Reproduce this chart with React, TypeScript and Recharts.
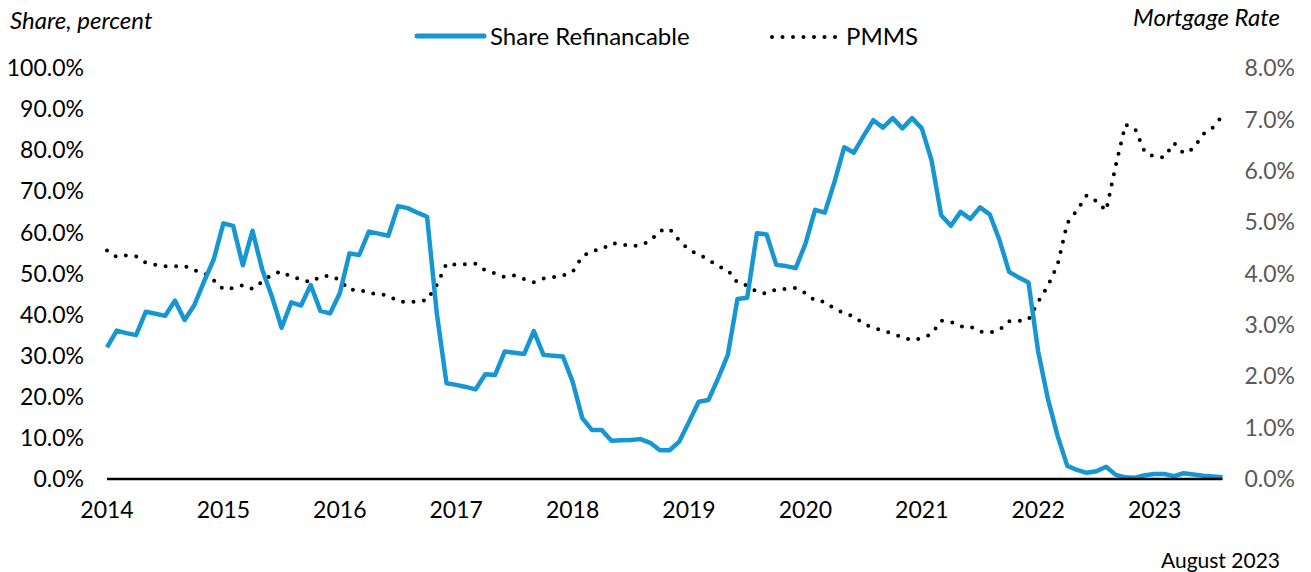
import React from "react";
import { LineChart, Line, XAxis, YAxis } from "recharts";

const years = [2014, 2015, 2016, 2017, 2018, 2019, 2020, 2021, 2022, 2023];

const refi2014 = [32.0, 36.1, 35.5, 35.0, 40.7, 40.2, 39.7, 43.4, 38.7, 42.3, 48.0, 53.4];
const refi2015 = [62.2, 61.6, 52.0, 60.4, 51.0, 44.4, 36.8, 43.0, 42.2, 47.2, 40.9, 40.3];
const refi2016 = [45.2, 54.9, 54.5, 60.2, 59.7, 59.2, 66.4, 65.9, 64.8, 63.8, 40.3, 23.3];
const refi2017 = [22.9, 22.4, 21.8, 25.5, 25.3, 31.0, 30.7, 30.4, 36.0, 30.2, 30.0, 29.8];
const refi2018 = [23.7, 14.8, 11.9, 11.9, 9.3, 9.4, 9.5, 9.7, 8.8, 7.0, 7.0, 9.1];
const refi2019 = [13.9, 18.8, 19.2, 24.5, 30.2, 43.8, 44.1, 59.8, 59.5, 52.1, 51.8, 51.3];
const refi2020 = [57.2, 65.5, 64.8, 72.3, 80.7, 79.4, 83.5, 87.3, 85.5, 87.8, 85.3, 87.8];
const refi2021 = [85.3, 77.6, 64.2, 61.6, 65.0, 63.3, 66.1, 64.4, 58.2, 50.4, 49.0, 47.8];
const refi2022 = [31.0, 19.5, 10.5, 3.2, 2.2, 1.5, 1.9, 3.0, 1.0, 0.4, 0.3, 0.9];
const refi2023 = [1.2, 1.2, 0.7, 1.4, 1.1, 0.8, 0.6, 0.4];

const pmms2014 = [4.45, 4.32, 4.35, 4.33, 4.21, 4.17, 4.14, 4.14, 4.15, 4.06, 4.01, 3.87];
const pmms2015 = [3.69, 3.72, 3.77, 3.70, 3.84, 3.98, 4.04, 3.93, 3.89, 3.83, 3.94, 3.96];
const pmms2016 = [3.87, 3.68, 3.69, 3.62, 3.60, 3.57, 3.46, 3.44, 3.46, 3.48, 3.78, 4.19];
const pmms2017 = [4.17, 4.18, 4.19, 4.06, 4.00, 3.93, 3.96, 3.89, 3.83, 3.90, 3.93, 3.96];
const pmms2018 = [4.03, 4.33, 4.44, 4.47, 4.59, 4.57, 4.53, 4.55, 4.63, 4.83, 4.87, 4.64];
const pmms2019 = [4.46, 4.37, 4.27, 4.14, 4.07, 3.82, 3.77, 3.64, 3.61, 3.69, 3.70, 3.72];
const pmms2020 = [3.62, 3.47, 3.45, 3.31, 3.23, 3.16, 3.02, 2.94, 2.89, 2.83, 2.76, 2.70];
const pmms2021 = [2.74, 2.82, 3.08, 3.06, 2.97, 2.97, 2.87, 2.85, 2.90, 3.07, 3.08, 3.10];
const pmms2022 = [3.45, 3.76, 4.17, 4.98, 5.23, 5.52, 5.41, 5.22, 6.11, 6.90, 6.81, 6.36];
const pmms2023 = [6.27, 6.26, 6.54, 6.34, 6.43, 6.71, 6.84, 7.07];

const refiByYear = [refi2014, refi2015, refi2016, refi2017, refi2018, refi2019, refi2020, refi2021, refi2022, refi2023];
const pmmsByYear = [pmms2014, pmms2015, pmms2016, pmms2017, pmms2018, pmms2019, pmms2020, pmms2021, pmms2022, pmms2023];

const leftTicks = [0, 10, 20, 30, 40, 50, 60, 70, 80, 90, 100];
const rightTicks = [0, 1, 2, 3, 4, 5, 6, 7, 8];

const seriesNames = { refi: "Share Refinancable", pmms: "PMMS" };

const data: { date: string; refi: number; pmms: number }[] = [];
years.forEach((y, yi) => {
  refiByYear[yi].forEach((v, mi) => {
    data.push({
      date: `${y}-${String(mi + 1).padStart(2, "0")}`,
      refi: v,
      pmms: pmmsByYear[yi][mi],
    });
  });
});

const BLUE = "#1696d2";
const FONT = "Lato, 'Open Sans', sans-serif";

const LegendBlock = () => (
  <div style={{ position: "absolute", left: 0, top: 21, width: 1311, height: 30, fontFamily: FONT, fontSize: 24, color: "#000" }}>
    <svg style={{ position: "absolute", left: 0, top: 0 }} width={1311} height={30}>
      <line x1={417} y1={15} x2={484} y2={15} stroke={BLUE} strokeWidth={5} strokeLinecap="round" />
      <line x1={772} y1={16} x2={842} y2={16} stroke="#000" strokeWidth={4} strokeDasharray="0 10.5" strokeLinecap="round" />
    </svg>
    <span style={{ position: "absolute", left: 490, top: 0, lineHeight: "30px", whiteSpace: "nowrap" }}>{seriesNames.refi}</span>
    <span style={{ position: "absolute", left: 846, top: 0, lineHeight: "30px", whiteSpace: "nowrap" }}>{seriesNames.pmms}</span>
  </div>
);

export default function App() {
  return (
    <div style={{ position: "absolute", left: 0, top: 0, width: 1311, height: 572, background: "#fff", fontFamily: FONT, overflow: "hidden" }}>
      <LineChart
        width={1311}
        height={572}
        data={data}
        margin={{ top: 68, right: 0, bottom: 43, left: 0 }}
        style={{ fontFamily: FONT }}
      >
        <XAxis
          dataKey="date"
          interval={11}
          tickFormatter={(d: string) => d.slice(0, 4)}
          tickLine={false}
          tickSize={0}
          tickMargin={23}
          height={50}
          axisLine={{ stroke: "#000", strokeWidth: 2.5 }}
          tick={{ fill: "#000", fontSize: 23, fontFamily: FONT }}
        />
        <YAxis
          yAxisId="left"
          orientation="left"
          domain={[0, 100]}
          ticks={leftTicks}
          width={107}
          tickFormatter={(v: number) => `${v.toFixed(1)}%`}
          axisLine={false}
          tickLine={false}
          tickSize={0}
          tickMargin={23}
          tick={{ fill: "#000", fontSize: 23, fontFamily: FONT }}
        />
        <YAxis
          yAxisId="right"
          orientation="right"
          domain={[0, 8]}
          ticks={rightTicks}
          width={88.5}
          tickFormatter={(v: number) => `${v.toFixed(1)}%`}
          axisLine={false}
          tickLine={false}
          tickSize={0}
          tickMargin={22}
          tick={{ fill: "#5c5859", fontSize: 23, fontFamily: FONT }}
        />
        <Line
          yAxisId="right"
          type="linear"
          dataKey="pmms"
          name={seriesNames.pmms}
          stroke="#000"
          strokeWidth={4}
          strokeDasharray="0 10.5"
          strokeLinecap="round"
          dot={false}
          activeDot={false}
          isAnimationActive={false}
        />
        <Line
          yAxisId="left"
          type="linear"
          dataKey="refi"
          name={seriesNames.refi}
          stroke={BLUE}
          strokeWidth={4.5}
          strokeLinejoin="round"
          dot={false}
          activeDot={false}
          isAnimationActive={false}
        />
      </LineChart>
      <LegendBlock />
      <div style={{ position: "absolute", left: 10, top: 6, fontSize: 24, fontStyle: "italic", color: "#000", whiteSpace: "nowrap", lineHeight: "28px" }}>
        Share, percent
      </div>
      <div style={{ position: "absolute", right: 31, top: 3, fontSize: 24, fontStyle: "italic", color: "#000", whiteSpace: "nowrap", lineHeight: "28px" }}>
        Mortgage Rate
      </div>
      <div style={{ position: "absolute", right: 31, top: 548, fontSize: 21, color: "#000", whiteSpace: "nowrap", lineHeight: "24px" }}>
        August 2023
      </div>
    </div>
  );
}
